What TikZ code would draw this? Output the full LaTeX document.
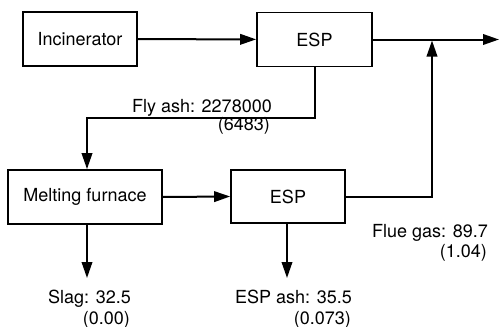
\documentclass[tikz,border=0pt]{standalone}
\usepackage{fontspec}
\setmainfont{TeX Gyre Heros}
\usetikzlibrary{arrows.meta}
\begin{document}
\begin{tikzpicture}[x=1pt,y=-1pt,
  every node/.style={font=\fontsize{18}{18}\selectfont},
  box/.style={draw,line width=1.7pt,rectangle,inner sep=0pt},
  flow/.style={line width=2pt,-{Triangle[length=16pt,width=10.5pt]}},
  lbl/.style={inner sep=0pt,anchor=base east}]
\useasboundingbox (0,0) rectangle (499,327);
\node[box,minimum width=114pt,minimum height=54pt] (inc) at (80,39) {Incinerator};
\node[box,minimum width=115pt,minimum height=54pt] (esp1) at (314.5,39.5) {ESP};
\node[box,minimum width=154pt,minimum height=54pt] (mf) at (85,197) {Melting furnace};
\node[box,minimum width=114pt,minimum height=53pt] (esp2) at (288,196.5) {ESP};
\coordinate (out) at (499,39.5);
\coordinate (fa) at (87,118);
\coordinate (slag) at (87,278);
\coordinate (ash) at (287,278);
\coordinate (j) at (432,40.5);
\draw[flow] (inc) -- (esp1);
\draw[flow] (esp1) -- (out);
\draw[flow] (esp1.south) |- (fa) -- (fa |- mf.north);
\draw[flow] (mf.east) -- (esp2.west);
\draw[flow] (slag |- mf.south) -- (slag);
\draw[flow] (ash |- esp2.south) -- (ash);
\draw[flow] (esp2.east) -| (j);
\node[lbl] (fa1) at (272,112) {Fly ash: 2278000};
\node[lbl] (fa2) at (270,130) {(6483)};
\node[lbl] (sl1) at (131,303.5) {Slag: 32.5};
\node[lbl] (sl2) at (130,324) {(0.00)};
\node[lbl] (ea1) at (352,303.5) {ESP ash: 35.5};
\node[lbl] (ea2) at (351,324) {(0.073)};
\node[lbl] (fg1) at (488,237) {Flue gas: 89.7};
\node[lbl] (fg2) at (487,257) {(1.04)};
\end{tikzpicture}
\end{document}
